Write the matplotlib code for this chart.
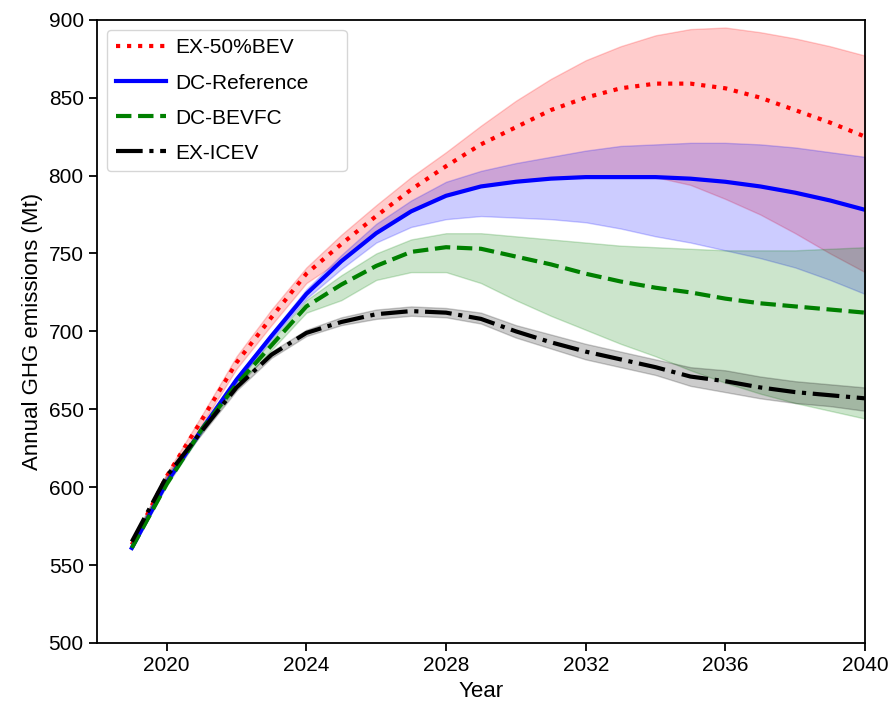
import matplotlib
matplotlib.use('Agg')
import matplotlib.pyplot as plt

plt.rcParams['font.family'] = ['Liberation Sans', 'DejaVu Sans']

years = list(range(2019, 2041))

ex50_mid = [563, 607, 643, 680, 709, 737, 756, 774, 791, 806, 820, 831, 842, 850, 856, 859, 859, 856, 850, 842, 834, 825]
ex50_hi = [564, 609, 646, 684, 714, 741, 762, 781, 799, 815, 832, 848, 862, 874, 883, 890, 894, 895, 892, 888, 883, 877]
ex50_lo = [562, 605, 640, 676, 704, 731, 746, 763, 777, 787, 794, 797, 799, 800, 800, 799, 794, 785, 775, 763, 750, 738]

ref_mid = [561, 603, 637, 669, 697, 724, 745, 763, 777, 787, 793, 796, 798, 799, 799, 799, 798, 796, 793, 789, 784, 778]
ref_hi = [562, 604, 639, 671, 699, 727, 749, 769, 784, 796, 803, 808, 812, 816, 819, 820, 821, 821, 820, 818, 815, 812]
ref_lo = [560, 602, 635, 667, 695, 721, 740, 757, 767, 772, 774, 773, 772, 770, 766, 761, 757, 752, 747, 741, 733, 724]

bevfc_mid = [561, 602, 637, 666, 691, 716, 730, 742, 751, 754, 753, 748, 743, 737, 732, 728, 725, 721, 718, 716, 714, 712]
bevfc_hi = [562, 603, 639, 668, 694, 720, 736, 750, 759, 763, 763, 761, 759, 757, 755, 754, 753, 752, 752, 752, 753, 754]
bevfc_lo = [560, 601, 635, 664, 688, 712, 720, 733, 738, 738, 731, 720, 710, 701, 692, 684, 675, 667, 660, 654, 649, 644]

icev_mid = [565, 607, 636, 664, 685, 699, 706, 711, 713, 712, 708, 700, 693, 687, 682, 677, 671, 668, 664, 661, 659, 657]
icev_hi = [566, 608, 638, 666, 687, 701, 709, 714, 716, 715, 712, 704, 698, 692, 687, 682, 677, 675, 671, 668, 666, 664]
icev_lo = [564, 606, 634, 662, 683, 697, 704, 708, 710, 709, 705, 696, 689, 682, 677, 672, 665, 661, 657, 654, 652, 649]

labels = ['EX-50%BEV', 'DC-Reference', 'DC-BEVFC', 'EX-ICEV']


def main():
    fig = plt.figure(figsize=(8.89, 7.05), dpi=100)
    ax = fig.add_axes([0.109, 0.088, 0.864, 0.884])

    ax.fill_between(years, ex50_lo, ex50_hi, color='red', alpha=0.2)
    ax.fill_between(years, ref_lo, ref_hi, color='blue', alpha=0.2)
    ax.fill_between(years, bevfc_lo, bevfc_hi, color='green', alpha=0.2)
    ax.fill_between(years, icev_lo, icev_hi, color='black', alpha=0.2)

    ax.plot(years, ex50_mid, color='red', ls=':', lw=3, label=labels[0])
    ax.plot(years, ref_mid, color='blue', ls='-', lw=3, label=labels[1])
    ax.plot(years, bevfc_mid, color='green', ls='--', lw=3, label=labels[2])
    ax.plot(years, icev_mid, color='black', ls='-.', lw=3, label=labels[3])

    ax.set_xlim(2018, 2040)
    ax.set_ylim(500, 900)
    ax.set_xticks([2020, 2024, 2028, 2032, 2036, 2040])
    ax.set_yticks(range(500, 901, 50))
    ax.tick_params(axis='both', labelsize=15, width=1.3, length=6)
    for s in ax.spines.values():
        s.set_linewidth(1.3)

    ax.set_xlabel('Year', fontsize=16)
    ax.set_ylabel('Annual GHG emissions (Mt)', fontsize=16)
    ax.legend(loc='upper left', bbox_to_anchor=(0, 0, 260 / 768, 1), mode='expand',
              fontsize=15, handlelength=2.4, handletextpad=0.45, labelspacing=0.77)

    fig.savefig('out.png', dpi=100)


if __name__ == '__main__':
    main()
